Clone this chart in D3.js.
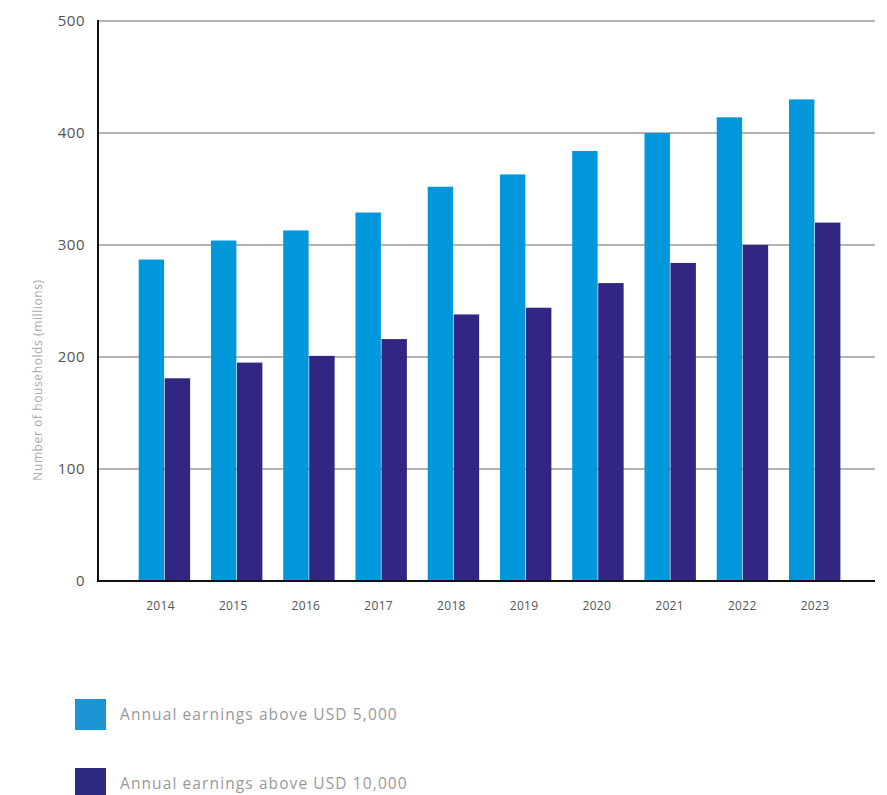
<!DOCTYPE html>
<html>
<head>
<meta charset="utf-8">
<script src="https://cdn.jsdelivr.net/npm/d3@7"></script>
<style>
  html, body { margin: 0; padding: 0; background: #fff; }
  svg { display: block; }
  text { font-family: "Open Sans", "Lato", sans-serif; }
</style>
</head>
<body>
<svg id="chart" width="887" height="795"></svg>
<script>
// Households by annual earnings, 2014–2023 (millions)
const years = ["2014", "2015", "2016", "2017", "2018", "2019", "2020", "2021", "2022", "2023"];
const above5000 = [287, 304, 313, 329, 352, 363, 384, 400, 414, 430];
const above10000 = [181, 195, 201, 216, 238, 244, 266, 284, 300, 320];
const yTicks = [0, 100, 200, 300, 400, 500];
const seriesNames = ["Annual earnings above USD 5,000", "Annual earnings above USD 10,000"];
const seriesColors = ["#0097DB", "#312783"];
const legendColors = ["#1B94D6", "#2E2A7F"];

const svg = d3.select("#chart");

const x = d3.scaleBand()
  .domain(years)
  .range([138.7, 841])
  .paddingInner(0.28)
  .paddingOuter(0);

// year labels sit on their own slightly narrower spacing
const xLabel = d3.scalePoint()
  .domain(years)
  .range([160, 814.5]);

const xInner = d3.scaleBand()
  .domain([0, 1])
  .range([0, x.bandwidth()]);

const y = d3.scaleLinear()
  .domain([0, 500])
  .range([581, 21]);

// horizontal gridlines
svg.append("g")
  .selectAll("line")
  .data(yTicks.filter(d => d > 0))
  .join("line")
  .attr("x1", 98).attr("x2", 875)
  .attr("y1", d => y(d)).attr("y2", d => y(d))
  .attr("stroke", "#b3b3b3")
  .attr("stroke-width", 2);

// y axis tick labels
const yAxis = d3.axisLeft(y).tickValues(yTicks).tickSize(0).tickPadding(13).tickFormat(d3.format("d"));
const gy = svg.append("g").attr("transform", "translate(98,0)").call(yAxis);
gy.select(".domain").remove();
gy.selectAll("text")
  .attr("font-size", 15)
  .attr("fill", "#555")
  .attr("letter-spacing", 0.5)
  .attr("font-family", "\"Open Sans\", sans-serif");

// bars
const seriesData = [above5000, above10000];
const groups = svg.append("g")
  .selectAll("g")
  .data(years)
  .join("g")
  .attr("transform", d => `translate(${x(d)},0)`);

groups.selectAll("rect")
  .data((d, i) => seriesData.map((s, k) => ({ k, v: s[i] })))
  .join("rect")
  .attr("x", d => xInner(d.k))
  .attr("width", xInner.bandwidth() - 0.6)
  .attr("y", d => y(d.v))
  .attr("height", d => y(0) - y(d.v))
  .attr("fill", d => seriesColors[d.k]);

// axis lines
svg.append("line")
  .attr("x1", 98).attr("x2", 98)
  .attr("y1", 20).attr("y2", 582)
  .attr("stroke", "#111").attr("stroke-width", 2);
svg.append("line")
  .attr("x1", 97).attr("x2", 875)
  .attr("y1", 581).attr("y2", 581)
  .attr("stroke", "#111").attr("stroke-width", 2);

// x axis labels
const xAxis = d3.axisBottom(xLabel).tickSize(0).tickPadding(20);
const gx = svg.append("g").attr("transform", "translate(0,581)").call(xAxis);
gx.select(".domain").remove();
gx.selectAll("text")
  .attr("font-size", 12)
  .attr("letter-spacing", 0.3)
  .attr("fill", "#555");

// y axis title
svg.append("text")
  .attr("transform", "translate(42,380) rotate(-90)")
  .attr("text-anchor", "middle")
  .attr("font-size", 12)
  .attr("letter-spacing", 0.6)
  .attr("fill", "#aaa")
  .text("Number of households (millions)");

// legend
const legend = svg.append("g")
  .selectAll("g")
  .data(seriesNames)
  .join("g")
  .attr("transform", (d, i) => `translate(75,${699 + i * 69})`);
legend.append("rect")
  .attr("width", 31).attr("height", d => d === seriesNames[1] ? 27 : 31)
  .attr("fill", (d, i) => legendColors[i]);
legend.append("text")
  .attr("x", 45).attr("y", 21)
  .attr("font-size", 15.5)
  .attr("fill", "#999")
  .attr("letter-spacing", 1.1)
  .text(d => d);
</script>
</body>
</html>
